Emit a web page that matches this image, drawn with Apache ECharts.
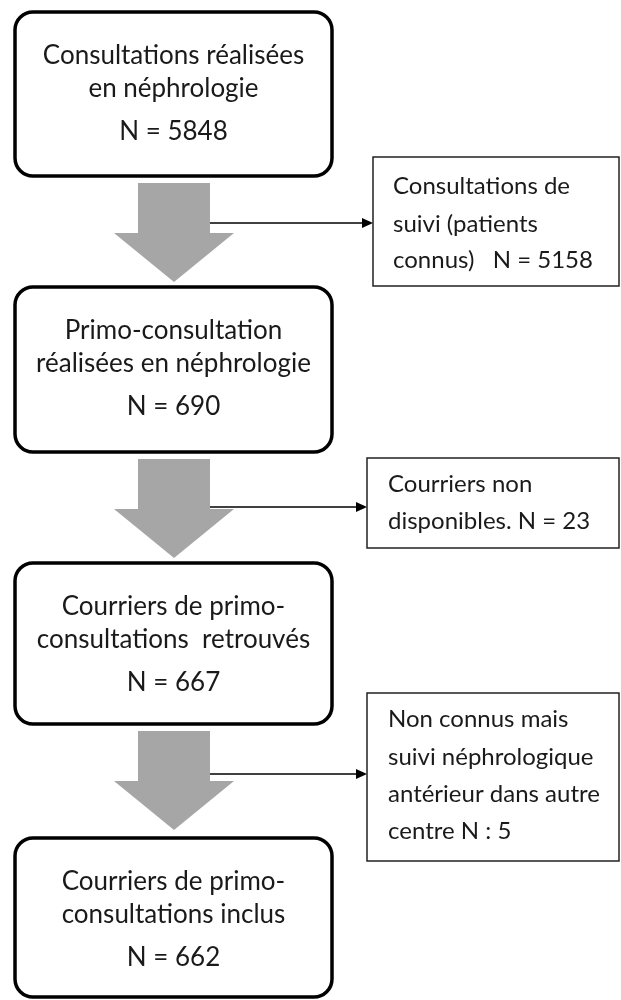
<!DOCTYPE html>
<html>
<head>
<meta charset="utf-8">
<style>
  html, body { margin: 0; padding: 0; background: #fff; }
  #main { width: 621px; height: 1000px; }
</style>
<script src="https://cdn.jsdelivr.net/npm/echarts@6/dist/echarts.min.js"></script>
</head>
<body>
<div id="main"></div>
<script>
// flow steps (main column)
var stepTitles = [
  ['Consultations réalisées', 'en néphrologie'],
  ['Primo-consultation', 'réalisées en néphrologie'],
  ['Courriers de primo-', 'consultations  retrouvés'],
  ['Courriers de primo-', 'consultations inclus']
];
var stepCounts = [5848, 690, 667, 662];

// exclusions (right column), {n} is replaced by the count
var exclLines = [
  ['Consultations de', 'suivi (patients', 'connus)   N = {n}'],
  ['Courriers non', 'disponibles. N = {n}'],
  ['Non connus mais', 'suivi néphrologique', 'antérieur dans autre', 'centre N : {n}']
];
var exclCounts = [5158, 23, 5];

// layout
var boxLeft = 15, boxW = 317;
var boxTop = [12, 287, 563, 838];
var boxH = [164, 165, 161, 159];
var lineOff = [44, 77, 120];
var arrowCx = 174;
var sideBox = [
  { x: 373, y: 157, h: 129, lineY: 223, textX: 393, rows: [186, 224, 260] },
  { x: 367, y: 458, h: 90, lineY: 507, textX: 388, rows: [484, 521] },
  { x: 367, y: 693, h: 168, lineY: 774, textX: 388, rows: [719, 757, 794, 831] }
];
var font = 'Lato, "Open Sans", sans-serif';
var textColor = '#1a1a1a';

var myChart = echarts.init(document.getElementById('main'));
var elements = [];

stepTitles.forEach(function (lines, i) {
  var top = boxTop[i];
  elements.push({
    type: 'rect',
    shape: { x: boxLeft, y: top, width: boxW, height: boxH[i], r: 18 },
    style: { fill: '#fff', stroke: '#000', lineWidth: 3.5 }
  });
  var texts = lines.concat(['N = ' + stepCounts[i]]);
  texts.forEach(function (t, j) {
    elements.push({
      type: 'text',
      x: boxLeft + boxW / 2,
      y: top + lineOff[j],
      style: {
        text: t, fill: textColor, font: '26px ' + font,
        textAlign: 'center', textVerticalAlign: 'middle'
      }
    });
  });
});

// grey block arrows between steps
for (var i = 0; i < 3; i++) {
  var y0 = boxTop[i] + boxH[i] + 7;
  elements.push({
    type: 'polygon',
    shape: {
      points: [
        [arrowCx - 36, y0], [arrowCx + 36, y0], [arrowCx + 36, y0 + 50],
        [arrowCx + 60, y0 + 50], [arrowCx, y0 + 99], [arrowCx - 60, y0 + 50],
        [arrowCx - 36, y0 + 50]
      ]
    },
    style: { fill: '#a6a6a6' }
  });
}

exclLines.forEach(function (lines, i) {
  var sb = sideBox[i];
  elements.push({
    type: 'line',
    shape: { x1: arrowCx + 36, y1: sb.lineY, x2: sb.x - 9, y2: sb.lineY },
    style: { stroke: '#000', lineWidth: 1.3 }
  });
  elements.push({
    type: 'polygon',
    shape: { points: [[sb.x - 11, sb.lineY - 5], [sb.x, sb.lineY], [sb.x - 11, sb.lineY + 5]] },
    style: { fill: '#000' }
  });
  elements.push({
    type: 'rect',
    shape: { x: sb.x, y: sb.y, width: 619 - sb.x, height: sb.h },
    style: { fill: '#fff', stroke: '#222', lineWidth: 1.5 }
  });
  lines.forEach(function (t, j) {
    elements.push({
      type: 'text',
      x: sb.textX,
      y: sb.rows[j],
      style: {
        text: t.replace('{n}', exclCounts[i]), fill: textColor, font: '24px ' + font,
        textAlign: 'left', textVerticalAlign: 'middle'
      }
    });
  });
});

myChart.setOption({
  animation: false,
  graphic: { elements: elements }
});
</script>
</body>
</html>
